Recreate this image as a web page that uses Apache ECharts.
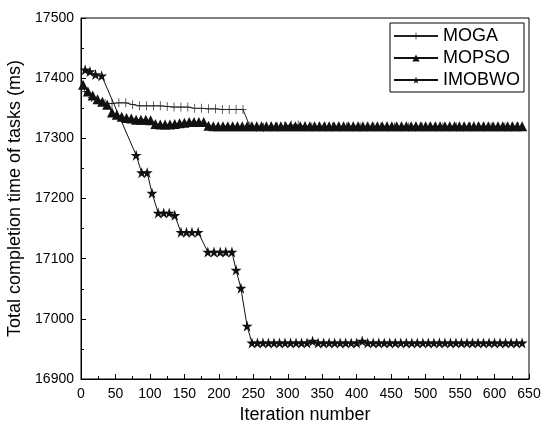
<!DOCTYPE html>
<html>
<head>
<meta charset="utf-8">
<script src="https://cdn.jsdelivr.net/npm/echarts@6/dist/echarts.min.js"></script>
<style>html,body{margin:0;padding:0;background:#fff;}#c{width:543px;height:432px;}</style>
</head>
<body>
<div id="c"></div>
<script>
const seriesNames = ['MOGA', 'MOPSO', 'IMOBWO'];
const xTicks = [0, 50, 100, 150, 200, 250, 300, 350, 400, 450, 500, 550, 600, 650];
const yTicks = [16900, 17000, 17100, 17200, 17300, 17400, 17500];

const mogaX = [5,15,25,35,45,55,65,75,85,95,105,115,125,135,145,155,165,175,185,195,205,215,225,235,
  245,255,265,275,285,295,305,315,325,335,345,355,365,375,385,395,405,415,425,435,445,455,465,475,485,495,
  505,515,525,535,545,555,565,575,585,595,605,615,625,635];
const mogaY = [17378,17368,17360,17358,17358,17359,17359,17356,17354,17354,17354,17354,17353,17352,17352,17352,17350,17350,17349,17349,17348,17348,17348,17348,
  17320,17319,17318,17319,17319,17320,17322,17322,17320,17319,17319,17319,17319,17319,17319,17319,17319,17319,17319,17319,17319,17319,17319,17319,17319,17319,
  17319,17319,17319,17319,17319,17319,17319,17319,17319,17319,17319,17319,17319,17319];

const mopsoX = [3,10,17,24,31,38,45,52,59,66,73,80,87,94,101,108,115,122,129,136,143,150,157,164,171,178,
  185,192,199,206,213,220,227,234,241,248,255,262,269,276,283,290,297,304,311,318,325,332,339,346,353,360,
  367,374,381,388,395,402,409,416,423,430,437,444,451,458,465,472,479,486,493,500,507,514,521,528,535,542,
  549,556,563,570,577,584,591,598,605,612,619,626,633,640];
const mopsoY = [17389,17378,17371,17365,17361,17356,17343,17339,17336,17334,17333,17331,17331,17331,17330,17324,17323,17323,17323,17324,17325,17326,17327,17327,17327,17327,
  17321,17320,17320,17320,17320,17320,17320,17320,17320,17320,17320,17320,17320,17320,17320,17320,17320,17320,17320,17320,17320,17320,17320,17320,17320,17320,
  17320,17320,17320,17320,17320,17320,17320,17320,17320,17320,17320,17320,17320,17320,17320,17320,17320,17320,17320,17320,17320,17320,17320,17320,17320,17320,
  17320,17320,17320,17320,17320,17320,17320,17320,17320,17320,17320,17320,17320,17320];

const imobwoX = [6,13,21,30,80,88,96,103,112,120,128,136,145,153,161,170,184,193,202,210,219,225,232,241,
  248,256,264,272,280,288,296,304,312,320,328,336,344,352,360,368,376,384,392,400,408,416,424,432,440,448,
  456,464,472,480,488,496,504,512,520,528,536,544,552,560,568,576,584,592,600,608,616,624,632,640];
const imobwoY = [17414,17411,17406,17404,17272,17243,17243,17209,17176,17176,17176,17172,17144,17144,17144,17144,17111,17111,17111,17111,17111,17081,17051,16988,
  16960,16960,16960,16960,16960,16960,16960,16960,16960,16960,16960,16963,16960,16960,16960,16960,16960,16960,16960,16960,16963,16960,16960,16960,16960,16960,
  16960,16960,16960,16960,16960,16960,16960,16960,16960,16960,16960,16960,16960,16960,16960,16960,16960,16960,16960,16960,16960,16960,16960,16960];

const FONT = '"Liberation Sans", Arial, sans-serif';
const plusPath = 'path://M-100,-10H100V10H-100Z M-10,-130H10V130H-10Z';
const starPath = 'path://M0,-100L22.45,-30.9L95.1,-30.9L36.3,11.8L58.8,80.9L0,38.2L-58.8,80.9L-36.3,11.8L-95.1,-30.9L-22.45,-30.9Z';

function pairs(xs, ys) { return xs.map((x, i) => [x, ys[i]]); }

const chart = echarts.init(document.getElementById('c'), null, {renderer: 'canvas'});
const axisCommon = {
  axisLine: {show: true, lineStyle: {color: '#000', width: 1}},
  axisTick: {show: true, inside: true, length: 5, lineStyle: {color: '#000'}},
  minorTick: {show: true, splitNumber: 2, length: 3, lineStyle: {color: '#000'}},
  splitLine: {show: false},
  nameTextStyle: {color: '#000', fontSize: 18, fontFamily: FONT},
  nameLocation: 'middle'
};
const labelCommon = {color: '#000', fontSize: 14, fontFamily: FONT, formatter: v => String(v)};
chart.setOption({
  animation: false,
  backgroundColor: '#fff',
  grid: {left: 81, right: 14, top: 18, bottom: 53, show: true, borderColor: '#000', borderWidth: 1,
    containLabel: false, outerBoundsMode: 'none'},
  legend: {
    orient: 'vertical', left: 390, top: 23,
    padding: [4, 4, 3, 3], itemGap: 4, itemWidth: 44, itemHeight: 9,
    borderColor: '#000', borderWidth: 1, backgroundColor: '#fff',
    textStyle: {color: '#000', fontSize: 18, fontFamily: FONT},
    data: seriesNames
  },
  xAxis: Object.assign({}, axisCommon, {
    type: 'value', min: xTicks[0], max: xTicks[xTicks.length - 1], interval: 50,
    name: 'Iteration number', nameGap: 20,
    axisLabel: Object.assign({}, labelCommon, {margin: 8})
  }),
  yAxis: Object.assign({}, axisCommon, {
    type: 'value', min: yTicks[0], max: yTicks[yTicks.length - 1], interval: 100,
    name: 'Total completion time of tasks (ms)', nameGap: 51,
    axisLabel: Object.assign({}, labelCommon, {margin: 7})
  }),
  series: [
    {name: 'MOGA', type: 'line', data: pairs(mogaX, mogaY), symbol: plusPath, symbolSize: [7, 9],
      lineStyle: {color: '#222', width: 1}, itemStyle: {color: '#222'}, z: 3},
    {name: 'MOPSO', type: 'line', data: pairs(mopsoX, mopsoY), symbol: 'triangle', symbolSize: [10, 10],
      lineStyle: {color: '#111', width: 1}, itemStyle: {color: '#111'}, z: 4},
    {name: 'IMOBWO', type: 'line', data: pairs(imobwoX, imobwoY), symbol: starPath, symbolSize: 11,
      lineStyle: {color: '#111', width: 1}, itemStyle: {color: '#111'}, z: 5}
  ]
});
</script>
</body>
</html>
